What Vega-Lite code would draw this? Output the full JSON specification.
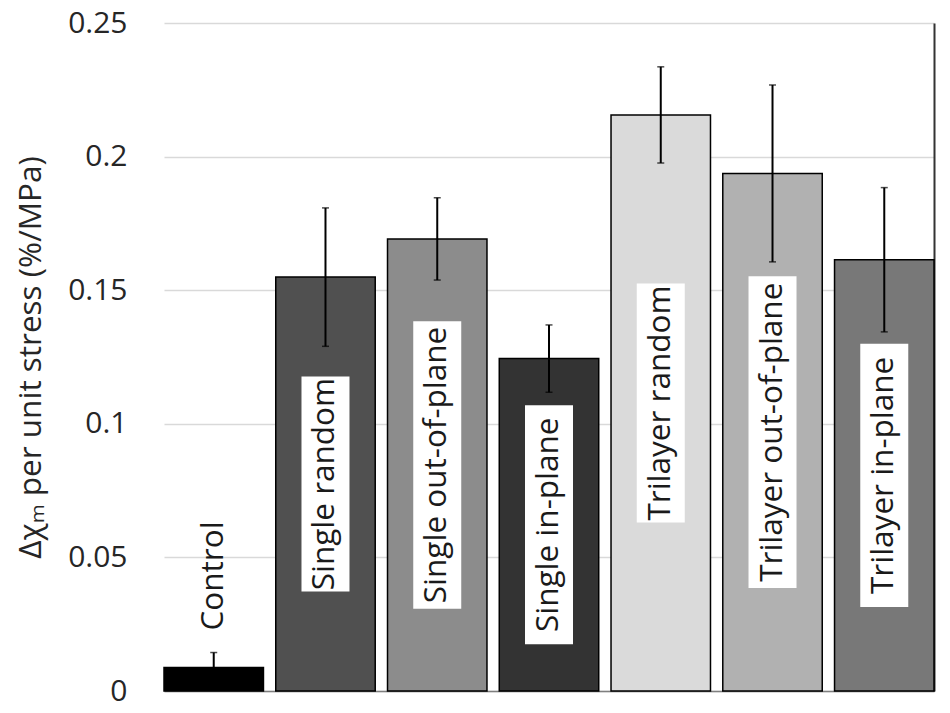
{
  "$schema": "https://vega.github.io/schema/vega-lite/v6.json",
  "width": 770,
  "height": 668,
  "autosize": "none",
  "padding": {"left": 164, "top": 23, "right": 16, "bottom": 22},
  "background": "white",
  "config": {"view": {"stroke": null}, "font": "Open Sans"},
  "data": {
    "values": [
      {"group": "Control", "value": 0.0088, "err": 0.0056},
      {"group": "Single random", "value": 0.1549, "err": 0.0259},
      {"group": "Single out-of-plane", "value": 0.1692, "err": 0.0154},
      {"group": "Single in-plane", "value": 0.1244, "err": 0.0126},
      {"group": "Trilayer random", "value": 0.2156, "err": 0.018},
      {"group": "Trilayer out-of-plane", "value": 0.1937, "err": 0.0331},
      {"group": "Trilayer in-plane", "value": 0.1614, "err": 0.027}
    ]
  },
  "encoding": {
    "x": {
      "field": "group",
      "type": "nominal",
      "sort": null,
      "scale": {"paddingInner": 0.11, "paddingOuter": 0},
      "axis": {"title": null, "labels": false, "ticks": false, "domainColor": "#7f7f7f", "domainWidth": 1.5}
    }
  },
  "layer": [
    {
      "layer": [
        {
          "mark": {"type": "bar", "stroke": "black", "strokeWidth": 1.5},
          "encoding": {
            "y": {
              "field": "value",
              "type": "quantitative",
              "title": "Δχₘ per unit stress (%/MPa)",
              "scale": {"domain": [0, 0.25], "nice": false},
              "axis": {
                "values": [0, 0.05, 0.1, 0.15, 0.2, 0.25],
                "labelExpr": "'' + datum.value",
                "ticks": false,
                "tickSize": 0,
                "domain": false,
                "grid": true,
                "gridColor": "#d9d9d9",
                "gridWidth": 1.3,
                "labelFont": "Open Sans",
                "labelFontSize": 30,
                "labelColor": "#262626",
                "labelPadding": 37,
                "titleFont": "Open Sans",
                "titleFontSize": 31.5,
                "titleFontWeight": "normal",
                "titleColor": "#262626",
                "titlePadding": 20
              }
            },
            "color": {
              "field": "group",
              "type": "nominal",
              "sort": null,
              "scale": {
                "domain": ["Control", "Single random", "Single out-of-plane", "Single in-plane", "Trilayer random", "Trilayer out-of-plane", "Trilayer in-plane"],
                "range": ["#000000", "#505050", "#8c8c8c", "#333333", "#dadada", "#b1b1b1", "#787878"]
              },
              "legend": null
            }
          }
        },
        {
          "mark": {"type": "errorbar", "color": "black", "ticks": {"size": 7, "thickness": 1.5, "color": "black"}, "rule": {"strokeWidth": 2}},
          "encoding": {
            "y": {"field": "value", "type": "quantitative", "title": "Δχₘ per unit stress (%/MPa)"},
            "yError": {"field": "err"}
          }
        },
        {
          "transform": [{"filter": "datum.group === 'Control'"}],
          "mark": {"type": "text", "angle": 270, "align": "left", "baseline": "middle", "dx": 37, "fontSize": 31.5, "color": "#1a1a1a"},
          "encoding": {
            "y": {"field": "value", "type": "quantitative", "title": "Δχₘ per unit stress (%/MPa)"},
            "text": {"field": "group"}
          }
        }
      ]
    },
    {
      "transform": [{"filter": "datum.group !== 'Control'"}],
      "encoding": {
        "y": {
          "field": "value",
          "type": "quantitative",
          "scale": {"domain": [0, 0.5], "nice": false},
          "axis": {"orient": "right", "title": null, "labels": false, "ticks": false, "grid": false, "domainColor": "#333333", "domainWidth": 2}
        }
      },
      "layer": [
        {
          "mark": {
            "type": "bar",
            "color": "white",
            "size": 48,
            "yOffset": {"expr": "-(12.1 * length(datum.group) + 57.6) / 2"},
            "y2Offset": {"expr": "(12.1 * length(datum.group) + 57.6) / 2"}
          },
          "encoding": {"y2": {"field": "value"}}
        },
        {
          "mark": {"type": "text", "angle": 270, "align": "center", "baseline": "middle", "fontSize": 31.5, "color": "#1a1a1a"},
          "encoding": {"text": {"field": "group"}}
        }
      ]
    }
  ],
  "resolve": {"scale": {"y": "independent"}}
}
